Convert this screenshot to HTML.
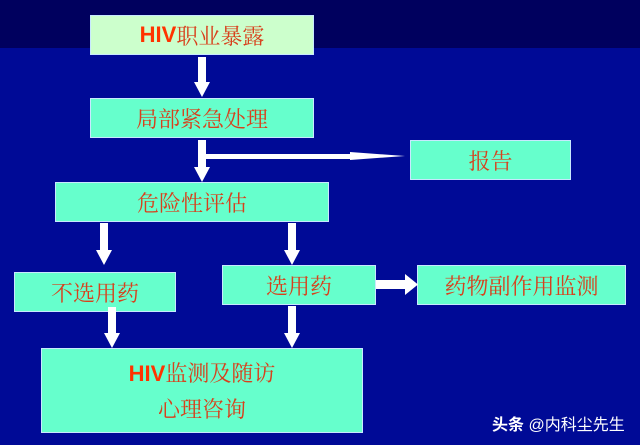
<!DOCTYPE html>
<html><head><meta charset="utf-8"><style>
body{margin:0;width:640px;height:445px;overflow:hidden;background:#000a96;position:relative;font-family:"Liberation Serif","Noto Serif CJK SC",serif}
.top{position:absolute;left:0;top:0;width:640px;height:48px;background:#00005e}
.b{position:absolute;background:#66ffcc;color:#d8401c;font-size:22px;display:flex;align-items:center;justify-content:center;box-sizing:border-box;border:1px solid #c8e8ff}
.h{font-family:"Liberation Sans",sans-serif;font-weight:bold;color:#ff3300}
svg{position:absolute;left:0;top:0}
</style></head><body>
<div class="top"></div>
<div class="b" style="left:90px;top:15px;width:224px;height:40px;background:#ccffcc"><span class="h">HIV</span>职业暴露</div>
<div class="b" style="left:90px;top:98px;width:224px;height:40px">局部紧急处理</div>
<div class="b" style="left:410px;top:140px;width:161px;height:40px">报告</div>
<div class="b" style="left:55px;top:182px;width:274px;height:40px">危险性评估</div>
<div class="b" style="left:14px;top:272px;width:162px;height:40px">不选用药</div>
<div class="b" style="left:222px;top:265px;width:154px;height:40px">选用药</div>
<div class="b" style="left:417px;top:265px;width:209px;height:40px">药物副作用监测</div>
<div class="b" style="left:41px;top:348px;width:322px;height:85px;flex-direction:column;justify-content:space-around;padding:6px 0"><div><span class="h">HIV</span>监测及随访</div><div>心理咨询</div></div>
<svg width="640" height="445" fill="#fff">
<rect x="198" y="57" width="8" height="26"/><polygon points="194,82 210,82 202,97"/>
<rect x="198" y="140" width="8" height="28"/><polygon points="194,167 210,167 202,182"/>
<rect x="206" y="154" width="146" height="5"/><polygon points="350,152 405,156 350,160"/>
<rect x="100" y="223" width="8" height="28"/><polygon points="96,250 112,250 104,265"/>
<rect x="288" y="223" width="8" height="28"/><polygon points="284,250 300,250 292,265"/>
<rect x="108" y="307" width="8" height="27"/><polygon points="104,333 120,333 112,348"/>
<rect x="288" y="306" width="8" height="28"/><polygon points="284,333 300,333 292,348"/>
<rect x="376" y="280" width="30" height="9"/><polygon points="405,274 418,284.5 405,295"/>
</svg>
<div style="position:absolute;left:492px;top:411px;color:#fff;font-family:'Liberation Sans','Noto Sans CJK SC',sans-serif;font-size:16px"><b>头条</b> @内科尘先生</div>
</body></html>
